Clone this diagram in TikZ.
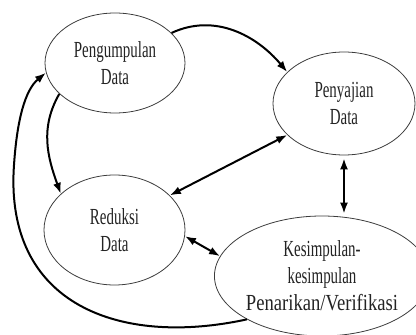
\documentclass[tikz,border=0pt]{standalone}
\usepackage{fontspec}
\setmainfont[FakeStretch=0.65]{Liberation Serif}
\newfontfamily\widefont[FakeStretch=0.81]{Liberation Serif}
\usepackage{tikz}
\usetikzlibrary{shapes.geometric, arrows.meta, positioning, calc}
\definecolor{cInk}{RGB}{35,35,35}
\definecolor{cLine}{RGB}{60,60,60}
\tikzset{
  stagenode/.style={ellipse, draw=cLine, line width=0.8pt, inner sep=0pt,
                    align=center, text=cInk,
                    font=\fontsize{23}{27}\selectfont},
  arrow/.style={-{Latex[length=11pt,width=8pt]}, line width=2pt, color=black},
  dblarrow/.style={{Latex[length=11pt,width=8pt]}-{Latex[length=11pt,width=8pt]},
                   line width=2pt, color=black}
}

\begin{document}
\begin{tikzpicture}[x=1pt, y=1pt]
  \useasboundingbox (0,0) rectangle (416,335);

  % the four stages
  \node[stagenode, minimum width=140pt, minimum height=100pt] (peng) at (115,272)
    {Pengumpulan\\Data};
  \node[stagenode, minimum width=142pt, minimum height=103pt] (peny) at (344,231.5)
    {Penyajian\\Data};
  \node[stagenode, minimum width=141pt, minimum height=110pt] (red) at (114.5,105)
    {Reduksi\\Data};
  \node[stagenode, minimum width=200pt, minimum height=120pt] (kes) at (322,59)
    {Kesimpulan-\\kesimpulan\\{\widefont Penarikan/Verifikasi}};

  % connectors
  \draw[arrow] (peng.28) to[out=25, in=130] (peny.151);
  \draw[arrow] (peng.209) to[out=240, in=110] (red.146);
  \draw[dblarrow] (red.32) -- (peny.209);
  \draw[dblarrow, shorten <=3pt, shorten >=2pt] (peny.south) -- (peny.south |- kes.north);
  \draw[dblarrow] (red.-5) -- (kes.169);
  \draw[arrow] (kes.210) .. controls (120,-12) and (4,30) .. (14,170)
               .. controls (17,215) and (25,245) .. (peng.188);
\end{tikzpicture}
\end{document}
